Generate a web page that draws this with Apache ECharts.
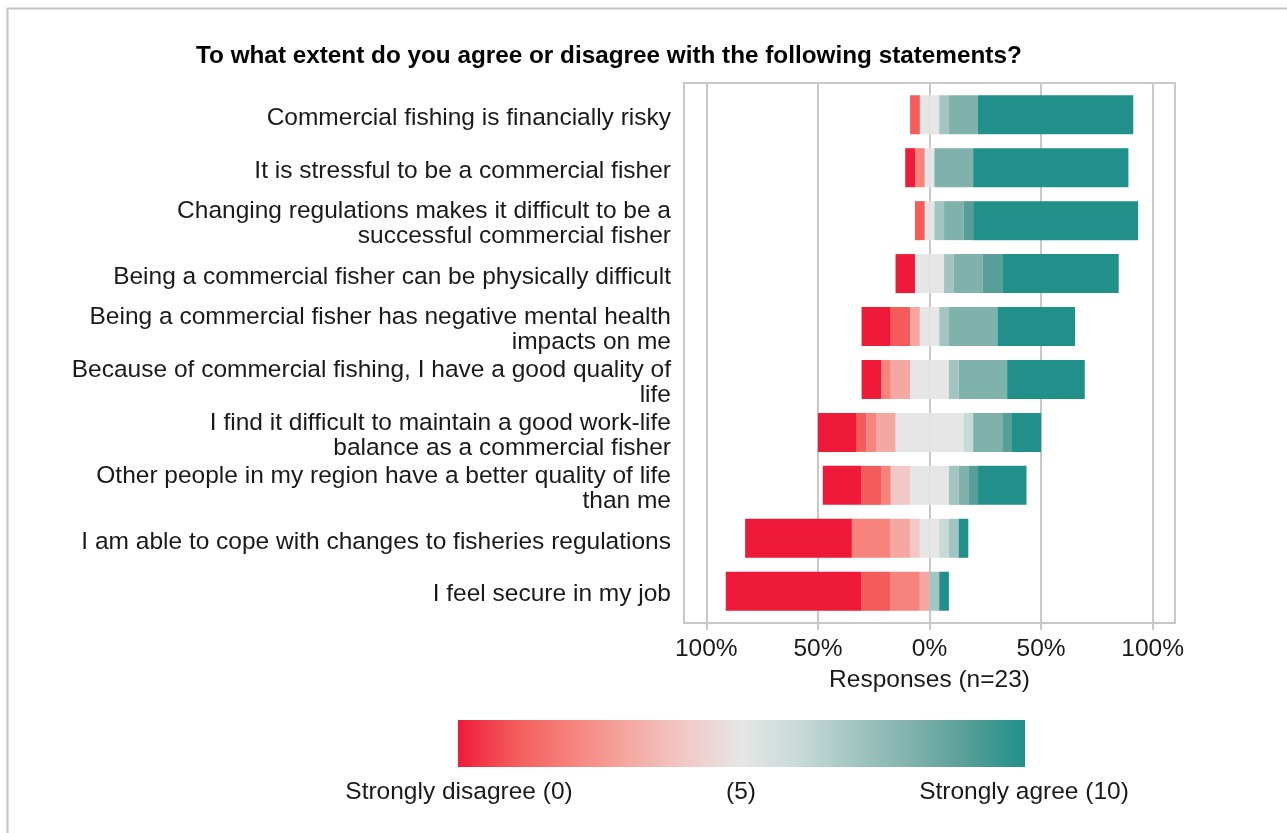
<!DOCTYPE html>
<html>
<head>
<meta charset="utf-8">
<script src="https://cdn.jsdelivr.net/npm/echarts@6/dist/echarts.min.js"></script>
<style>html, body { margin: 0; padding: 0; background: #fff; }</style>
</head>
<body>
<div id="chart" style="width:1287px;height:833px"></div>
<script>
var statements = [
    'Commercial fishing is financially risky',
    'It is stressful to be a commercial fisher',
    'Changing regulations makes it difficult to be a\nsuccessful commercial fisher',
    'Being a commercial fisher can be physically difficult',
    'Being a commercial fisher has negative mental health\nimpacts on me',
    'Because of commercial fishing, I have a good quality of\nlife',
    'I find it difficult to maintain a good work-life\nbalance as a commercial fisher',
    'Other people in my region have a better quality of life\nthan me',
    'I am able to cope with changes to fisheries regulations',
    'I feel secure in my job'
];
var n = 23;

// number of respondents giving each score, per statement (same order as above)
var score0  = [0, 1, 0, 2, 3, 2, 4, 4, 11, 14];
var score1  = [1, 0, 1, 0, 2, 0, 1, 2, 0, 3];
var score2  = [0, 1, 0, 0, 0, 1, 1, 1, 4, 3];
var score3  = [0, 0, 0, 0, 1, 2, 2, 0, 2, 1];
var score4  = [0, 0, 0, 0, 0, 0, 0, 2, 1, 0];
var score5  = [2, 1, 1, 3, 2, 4, 7, 4, 2, 0];
var score6  = [0, 0, 0, 0, 0, 0, 1, 0, 1, 0];
var score7  = [1, 0, 1, 1, 1, 1, 0, 1, 1, 1];
var score8  = [3, 4, 2, 3, 5, 5, 3, 1, 0, 0];
var score9  = [0, 0, 1, 2, 0, 0, 1, 1, 0, 0];
var score10 = [16, 16, 17, 12, 8, 8, 3, 5, 1, 1];

var xTicks = [-100, -50, 0, 50, 100];
var legendLabels = ['Strongly disagree (0)', '(5)', 'Strongly agree (10)'];

var colors = ['#EF1A3A', '#F45B5B', '#F7837D', '#F5A8A1', '#F2C8C6', '#E6E6E6',
              '#C8DAD8', '#A3C5C1', '#80B2AC', '#569E97', '#21908A'];
var scores = [score0, score1, score2, score3, score4, score5, score6, score7, score8, score9, score10];

var font = '"Liberation Sans", Arial, sans-serif';
var textColor = '#1A1A1A';
var gridColor = '#C8C8C8';

// panel box, x range like ggplot's expanded limits
var xMin = -110, xMax = 110;
var panel = {left: 684, top: 83, width: 491, height: 540};
var pxPer = panel.width / (xMax - xMin);
var bandPad = panel.height / (statements.length - 1 + 1.2) * 0.1;
var labelShift = 3.5; // R draws the statement text a little below the bar centre

var series = [];
function addBar(vals, sign, color) {
    series.push({
        type: 'bar',
        stack: 'all',
        xAxisIndex: 2,
        yAxisIndex: 2,
        barWidth: 39,
        silent: true,
        itemStyle: {color: color},
        data: vals.map(function (c) { return c ? sign * c / n * 100 : '-'; })
    });
}
// neutral split across zero, then outward on each side
addBar(score5.map(function (c) { return c / 2; }), -1, colors[5]);
addBar(score5.map(function (c) { return c / 2; }), 1, colors[5]);
for (var k = 4; k >= 0; k--) addBar(scores[k], -1, colors[k]);
for (var k = 6; k <= 10; k++) addBar(scores[k], 1, colors[k]);

var myChart = echarts.init(document.getElementById('chart'));

var stops = colors.map(function (c, i) { return {offset: i / 10, color: c}; });

var option = {
    animation: false,
    backgroundColor: '#fff',
    title: {
        text: 'To what extent do you agree or disagree with the following statements?',
        left: 196,
        top: 44,
        padding: 0,
        textStyle: {fontFamily: font, fontSize: 24.3, fontWeight: 'bold', color: '#000'}
    },
    grid: [
        {left: panel.left, top: panel.top, width: panel.width, height: panel.height,
         show: true, borderColor: gridColor, borderWidth: 2},
        {left: panel.left + (xTicks[0] - xMin) * pxPer, width: (xTicks[4] - xTicks[0]) * pxPer,
         top: panel.top, height: panel.height},
        {left: panel.left, width: panel.width, top: panel.top + bandPad, height: panel.height - 2 * bandPad},
        {left: panel.left, width: panel.width, top: panel.top + bandPad + labelShift, height: panel.height - 2 * bandPad}
    ],
    xAxis: [
        {gridIndex: 0, type: 'value', min: xMin, max: xMax, show: false},
        {
            gridIndex: 1, type: 'value', min: xTicks[0], max: xTicks[4], interval: 50,
            axisLine: {show: true, lineStyle: {color: gridColor, width: 2}},
            axisTick: {show: true, length: 7, lineStyle: {color: gridColor, width: 2}},
            splitLine: {show: true, lineStyle: {color: gridColor, width: 2}},
            axisLabel: {
                margin: 14, fontSize: 24.5, fontFamily: font, color: textColor,
                formatter: function (v) { return Math.abs(v) + '%'; }
            },
            name: 'Responses (n=' + n + ')',
            nameLocation: 'middle',
            nameGap: 45,
            nameTextStyle: {fontSize: 24.5, fontFamily: font, color: textColor}
        },
        {gridIndex: 2, type: 'value', min: xMin, max: xMax, show: false},
        {gridIndex: 3, type: 'value', min: xMin, max: xMax, show: false}
    ],
    yAxis: [
        {gridIndex: 0, type: 'value', show: false},
        {gridIndex: 1, type: 'value', show: false},
        {
            gridIndex: 2, type: 'category', data: statements, inverse: true,
            axisLine: {show: false},
            axisTick: {show: true, alignWithLabel: true, length: 7, lineStyle: {color: gridColor, width: 2}},
            axisLabel: {show: false}
        },
        {
            gridIndex: 3, type: 'category', data: statements, inverse: true,
            axisLine: {show: false},
            axisTick: {show: false},
            axisLabel: {margin: 13, fontSize: 24.5, lineHeight: 25,
                        fontFamily: font, color: textColor, align: 'right'}
        }
    ],
    series: series,
    graphic: [
        {type: 'line', shape: {x1: 7.5, y1: 8, x2: 7.5, y2: 833}, style: {stroke: '#C4C4C4', lineWidth: 2}},
        {type: 'line', shape: {x1: 7, y1: 8.5, x2: 1287, y2: 8.5}, style: {stroke: '#C4C4C4', lineWidth: 2}},
        {type: 'rect', shape: {x: 458, y: 720, width: 567, height: 47},
         style: {fill: new echarts.graphic.LinearGradient(0, 0, 1, 0, stops)}},
        {type: 'text', x: 459, y: 792.5, style: {text: legendLabels[0], align: 'center', verticalAlign: 'middle',
         textAlign: 'center', textVerticalAlign: 'middle', fontSize: 24.5, fontFamily: font, fill: textColor}},
        {type: 'text', x: 741, y: 792.5, style: {text: legendLabels[1], align: 'center', verticalAlign: 'middle',
         textAlign: 'center', textVerticalAlign: 'middle', fontSize: 24.5, fontFamily: font, fill: textColor}},
        {type: 'text', x: 1024, y: 792.5, style: {text: legendLabels[2], align: 'center', verticalAlign: 'middle',
         textAlign: 'center', textVerticalAlign: 'middle', fontSize: 24.5, fontFamily: font, fill: textColor}}
    ]
};
myChart.setOption(option);
</script>
</body>
</html>
